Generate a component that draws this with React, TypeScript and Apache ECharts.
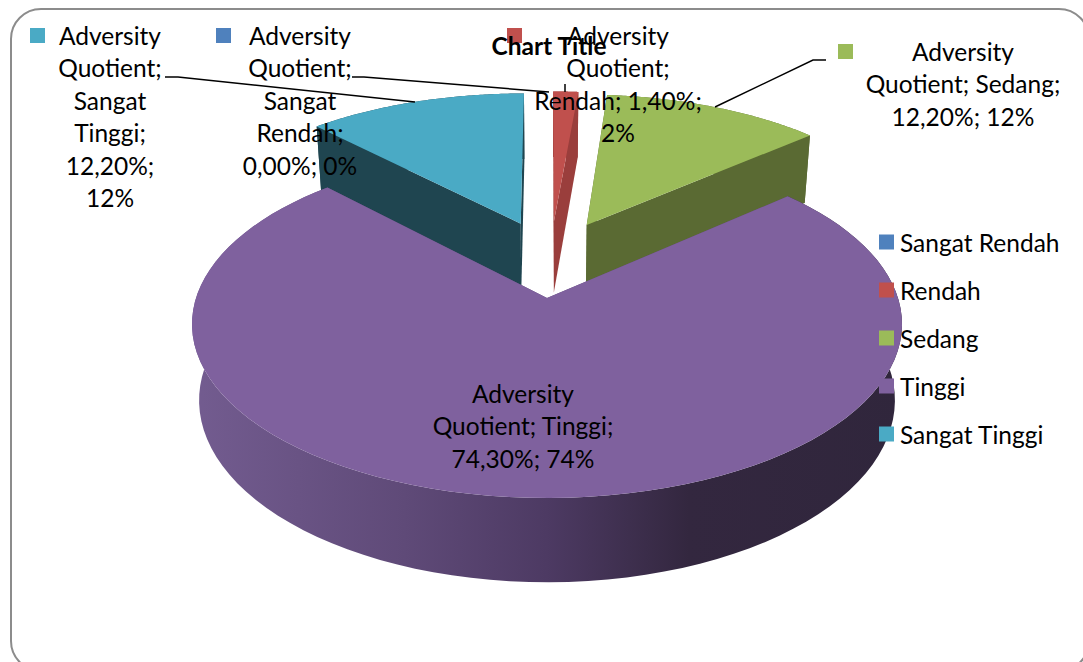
import React, { useEffect, useRef } from "react";
import * as echarts from "echarts";

const categories = ["Sangat Rendah", "Rendah", "Sedang", "Tinggi", "Sangat Tinggi"];
const values = [0, 1.4, 12.2, 74.3, 12.2];
const topColors = ["#4F81BD", "#C0504D", "#9BBB59", "#7F619E", "#4AAAC5"];
const wallColors = ["#2b4a70", "#9A3E3C", "#5A6A33", "#5f4a78", "#1F4550"];
const titleText = "Chart Title";
const labelLines = [
  ["Adversity", "Quotient;", "Sangat", "Rendah;", "0,00%; 0%"],
  ["Adversity", "Quotient;", "Rendah; 1,40%;", "2%"],
  ["Adversity", "Quotient; Sedang;", "12,20%; 12%"],
  ["Adversity", "Quotient; Tinggi;", "74,30%; 74%"],
  ["Adversity", "Quotient;", "Sangat", "Tinggi;", "12,20%;", "12%"],
];
const labelCenters = [[300, 19], [618, 19], [963, 35], [523, 377], [110, 19]];
const labelMarkers = [[216, 28], [507, 28], [838, 44], null, [30, 28]];
const leaders = [
  [[352, 77], [364, 77], [549, 92]],
  [[565, 84], [565, 92]],
  [[715, 107], [813, 60], [826, 60]],
  null,
  [[165, 77], [178, 77], [415, 102]],
];

const FONT = "Lato";
const FONT_SIZE = 24.5;
const CX = 547;
const CY = 298;
const A = 351;
const B = 170;
const K = 0.15;
const DEPTH = 75;
const EXPLODE = 0.243;

function project(u: number, v: number, z: number): number[] {
  const w = 1 - K * v;
  const s = 1 - 0.02 * z;
  return [CX + (A * s * u) / w, CY + (B * s * v + DEPTH * z) / w];
}

const total = values.reduce((a, b) => a + b, 0);

function sliceAngles(i: number): number[] {
  let before = 0;
  for (let j = 0; j < i; j++) before += values[j];
  const a0 = (before / total) * Math.PI * 2;
  return [a0, a0 + (values[i] / total) * Math.PI * 2];
}

const tinggiIndex = categories.indexOf("Tinggi");

function apexOf(i: number): number[] {
  const [a0, a1] = sliceAngles(i);
  const m = (a0 + a1) / 2;
  const [t0, t1] = sliceAngles(tinggiIndex);
  const tm = (t0 + t1) / 2;
  return [
    EXPLODE * (Math.sin(m) - Math.sin(tm)),
    EXPLODE * (-Math.cos(m) + Math.cos(tm)),
  ];
}

function renderSlice(i: number) {
  return () => {
    if (values[i] <= 0) return { type: "group", children: [] };
    const [a0, a1] = sliceAngles(i);
    const [ou, ov] = apexOf(i);
    const steps = 96;
    const rim = (z: number) => {
      const pts: number[][] = [];
      for (let s = 0; s <= steps; s++) {
        const a = a0 + ((a1 - a0) * s) / steps;
        pts.push(project(ou + Math.sin(a), ov - Math.cos(a), z));
      }
      return pts;
    };
    const top = rim(0);
    const bottom = rim(1);
    const apex0 = project(ou, ov, 0);
    const apex1 = project(ou, ov, 1);
    const wallFill: any =
      categories[i] === "Tinggi"
        ? new echarts.graphic.LinearGradient(0, 0, 1, 0, [
            { offset: 0, color: "#735C90" },
            { offset: 0.3, color: "#5F4A78" },
            { offset: 0.5, color: "#4D3A63" },
            { offset: 0.7, color: "#33273F" },
            { offset: 1, color: "#30263C" },
          ])
        : wallColors[i];
    const poly = (points: number[][], fill: any) => ({
      type: "polygon",
      shape: { points },
      style: { fill, stroke: "none" },
    });
    return {
      type: "group",
      children: [
        poly([...top, ...bottom.slice().reverse()], wallFill),
        poly([apex0, top[0], bottom[0], apex1], wallColors[i]),
        poly([apex0, top[steps], bottom[steps], apex1], wallColors[i]),
        poly([apex0, ...top], topColors[i]),
      ],
    };
  };
}

export default function App() {
  const ref = useRef<HTMLDivElement>(null);
  useEffect(() => {
    const chart = echarts.init(ref.current!, null, { renderer: "svg" });
    const graphic: any[] = [
      {
        type: "rect",
        z: -1,
        shape: { x: 11, y: 9, width: 1078, height: 662, r: 30 },
        style: { fill: "#fff", stroke: "#8C8C8C", lineWidth: 2 },
      },
    ];
    labelLines.forEach((lines, i) => {
      graphic.push({
        type: "text",
        z: 10,
        x: labelCenters[i][0],
        y: labelCenters[i][1],
        style: {
          text: lines.join("\n"),
          font: `${FONT_SIZE}px ${FONT}`,
          lineHeight: 32.5,
          align: "center",
          verticalAlign: "top",
          fill: "#000",
        },
      });
      const mk = labelMarkers[i];
      if (mk) {
        graphic.push({
          type: "rect",
          z: 9,
          shape: { x: mk[0], y: mk[1], width: 15, height: 15 },
          style: { fill: topColors[i] },
        });
      }
      const ld = leaders[i];
      if (ld) {
        graphic.push({
          type: "polyline",
          z: 9,
          shape: { points: ld },
          style: { stroke: "#000", lineWidth: 1.5, fill: "none" },
        });
      }
    });
    chart.setOption({
      animation: false,
      color: topColors,
      title: {
        text: titleText,
        left: 544,
        top: 28,
        textAlign: "center",
        z: 12,
        textStyle: { fontFamily: FONT, fontWeight: "bold", fontSize: FONT_SIZE, color: "#000" },
      },
      legend: {
        orient: "vertical",
        left: 874,
        top: 224,
        itemWidth: 15,
        itemHeight: 15,
        itemGap: 22,
        selectedMode: false,
        icon: "rect",
        z: 8,
        data: categories,
        textStyle: { fontFamily: FONT, fontSize: FONT_SIZE, color: "#000", padding: [0, 0, 0, 1], lineHeight: 26 },
      },
      series: categories.map((name, i) => ({
        type: "custom",
        name,
        coordinateSystem: "none",
        z: name === "Tinggi" ? 3 : 2,
        itemStyle: { color: topColors[i] },
        renderItem: renderSlice(i),
        data: [values[i]],
      })),
      graphic,
    });
    return () => chart.dispose();
  }, []);
  return (
    <div
      ref={ref}
      style={{ position: "fixed", left: 0, top: 0, width: 1083, height: 662, background: "#fff" }}
    />
  );
}
